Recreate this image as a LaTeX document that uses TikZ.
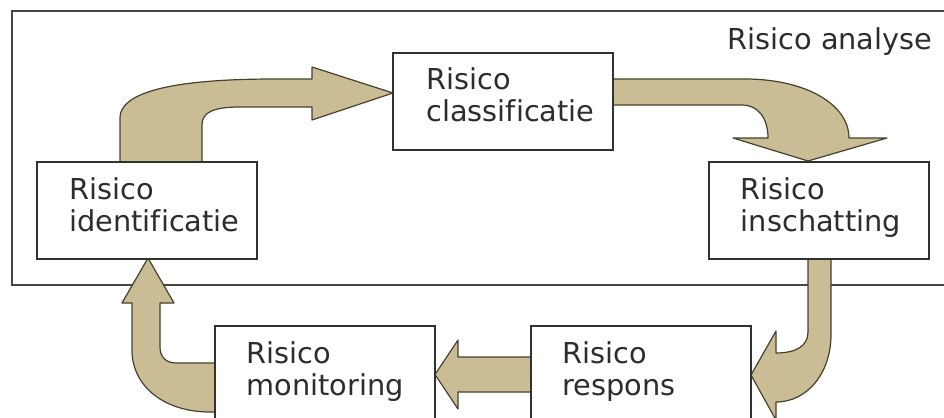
\documentclass[tikz,border=0pt]{standalone}
\usepackage{fontspec}
\setmainfont{DejaVu Sans}[Ligatures={NoCommon}]
\definecolor{tanfill}{RGB}{202,188,148}
\definecolor{arrowline}{RGB}{70,64,46}
\definecolor{boxline}{RGB}{50,50,50}
\definecolor{frameline}{RGB}{70,70,70}
\definecolor{txt}{RGB}{45,45,45}
\tikzset{
  box/.style={draw=boxline, line width=1pt, fill=white, minimum width=110pt, minimum height=48.5pt, inner sep=0pt},
  lbl/.style={anchor=base west, inner sep=0pt, text=txt, font=\fontsize{14.4pt}{16pt}\selectfont},
  bigarrow/.style={fill=tanfill, draw=arrowline, line width=0.6pt, line join=round},
  framebox/.style={draw=frameline, line width=1pt, minimum width=474pt, minimum height=137pt, inner sep=0pt}
}
\begin{document}
\begin{tikzpicture}[x=0.5pt, y=-0.5pt]
\useasboundingbox (0,0) rectangle (944,418);
\clip (0,0) rectangle (944,418);
% frame
\node[framebox] (frame) at (486,148) {};
\node[lbl] (frameT) at (727,49) {Risico analyse};
% arrows
\draw[bigarrow] (120,162) -- (120,118) .. controls (120,86) and (200,79) .. (275,79) -- (312,79) -- (312,67) -- (393,93) -- (312,120) -- (312,107) -- (240,107) .. controls (214,107) and (202,112) .. (202,125) -- (202,162) -- cycle;
\draw[bigarrow] (613,79) -- (745,79) .. controls (805,79) and (849,104) .. (849,138) -- (887,138) -- (808,161) -- (733,138) -- (768,138) .. controls (768,118) and (758,105) .. (742,105) -- (613,105) -- cycle;
\draw[bigarrow] (808,259) -- (808,332) .. controls (808,346) and (796,353) .. (776,353) -- (776,331) -- (751,375) -- (776,420) -- (776,402) .. controls (808,402) and (831,372) .. (831,335) -- (831,259) -- cycle;
\draw[bigarrow] (532,357) -- (458,357) -- (458,340) -- (435,374.5) -- (458,409) -- (458,392) -- (532,392) -- cycle;
\draw[bigarrow] (216,363) -- (176,363) .. controls (166,363) and (160,357) .. (160,347) -- (160,303) -- (174,303) -- (148,258) -- (122,303) -- (132,303) -- (132,350) .. controls (132,387) and (165,412) .. (210,412) -- (216,412) -- cycle;
% boxes
\node[box] (ident) at (147,210.5) {};
\node[box] (class) at (503,101) {};
\node[box] (insch) at (818.5,210.5) {};
\node[box] (monit) at (325,374.5) {};
\node[box] (resp) at (641,374.5) {};
% labels
\node[lbl] (identT) at ([shift={(33,38)}]ident.north west) {\begin{tabular}[t]{@{}l@{}}Risico\\identificatie\end{tabular}};
\node[lbl] (classT) at ([shift={(34,38)}]class.north west) {\begin{tabular}[t]{@{}l@{}}Risico\\classificatie\end{tabular}};
\node[lbl] (inschT) at ([shift={(33,38)}]insch.north west) {\begin{tabular}[t]{@{}l@{}}Risico\\inschatting\end{tabular}};
\node[lbl] (monitT) at ([shift={(32,38)}]monit.north west) {\begin{tabular}[t]{@{}l@{}}Risico\\monitoring\end{tabular}};
\node[lbl] (respT) at ([shift={(32,38)}]resp.north west) {\begin{tabular}[t]{@{}l@{}}Risico\\respons\end{tabular}};
\end{tikzpicture}
\end{document}
